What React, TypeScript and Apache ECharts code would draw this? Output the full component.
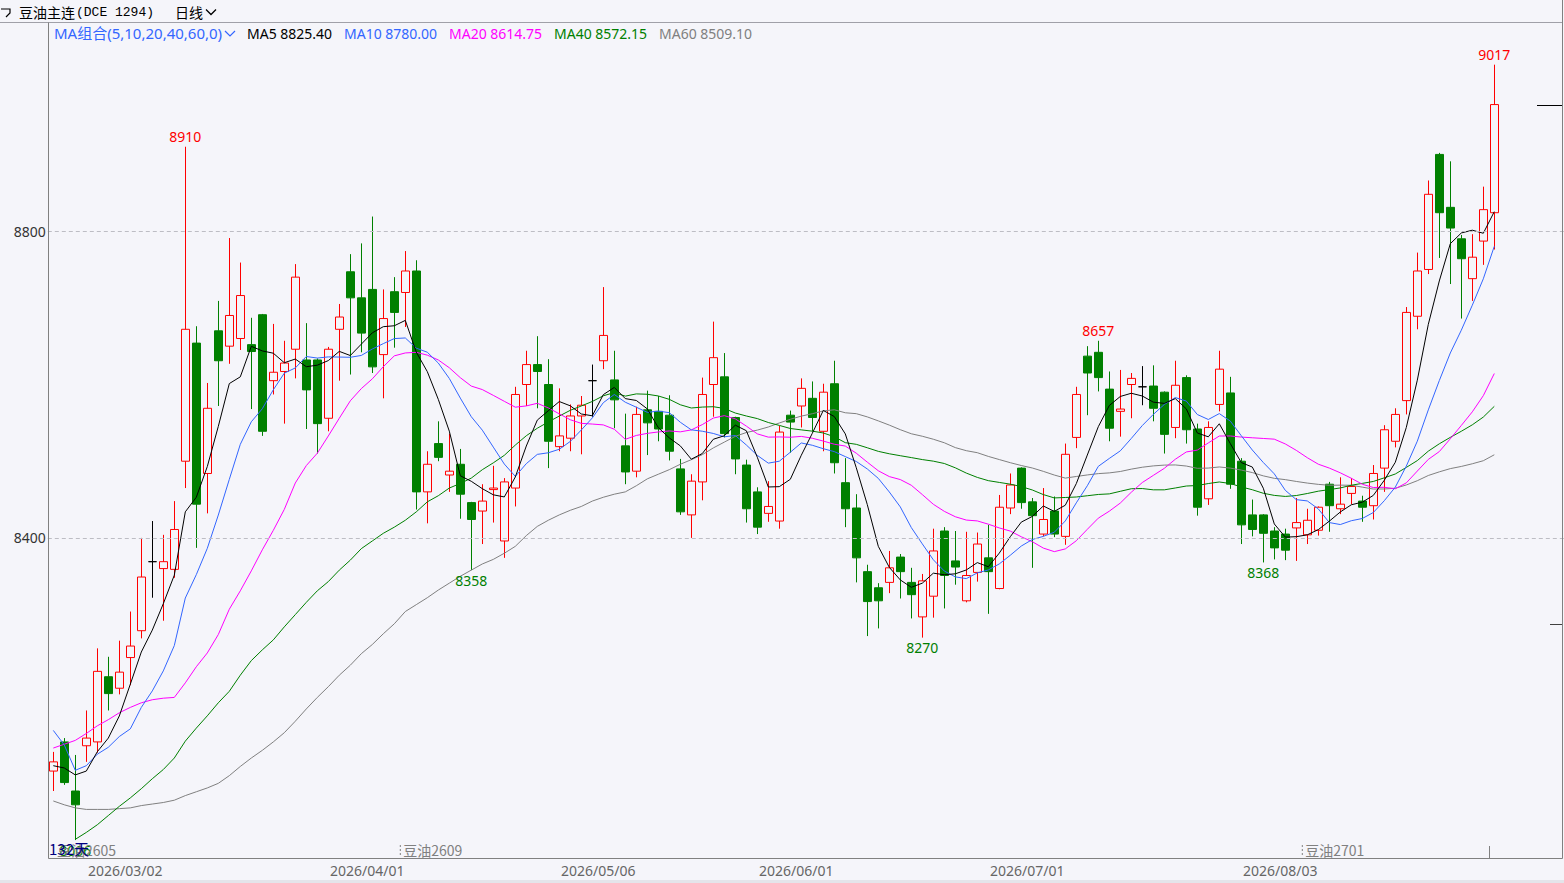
import React, { useEffect, useRef } from 'react';
import * as echarts from 'echarts';

// ---------------- data ----------------
const FIRST_DAY = '2026-02-11';
const HOLIDAYS = ['2026-02-16', '2026-02-17', '2026-02-18', '2026-02-19', '2026-02-20', '2026-02-23', '2026-04-06', '2026-05-01', '2026-05-04', '2026-05-05', '2026-06-19'];

const openPrices = [
  8096, 8134, 8070, 8129, 8134, 8219, 8204, 8244, 8279, 8369,
  8360, 8359, 8500, 8654, 8484, 8670, 8650, 8660, 8652, 8691,
  8605, 8617, 8646, 8632, 8632, 8556, 8672, 8747, 8713, 8724,
  8639, 8721, 8720, 8748, 8460, 8523, 8482, 8496, 8446, 8435,
  8463, 8396, 8465, 8600, 8626, 8600, 8519, 8530, 8559, 8605,
  8631, 8606, 8520, 8487, 8567, 8565, 8560, 8490, 8430, 8473,
  8600, 8610, 8557, 8495, 8460, 8432, 8422, 8560, 8572, 8582,
  8539, 8601, 8472, 8439, 8356, 8335, 8342, 8375, 8342, 8297,
  8324, 8409, 8370, 8318, 8355, 8374, 8334, 8439, 8491, 8447,
  8405, 8435, 8402, 8531, 8637, 8642, 8594, 8565, 8600, 8597,
  8598, 8590, 8544, 8609, 8542, 8451, 8574, 8589, 8500, 8430,
  8430, 8409, 8405, 8413, 8404, 8410, 8470, 8438, 8458, 8448,
  8442, 8491, 8526, 8579, 8689, 8750, 8900, 8831, 8790, 8738,
  8787, 8824,
];
const closePrices = [
  8108, 8081, 8052, 8139, 8226, 8197, 8225, 8259, 8349, 8369,
  8369, 8411, 8672, 8444, 8569, 8631, 8690, 8716, 8643, 8539,
  8616, 8628, 8740, 8593, 8549, 8646, 8688, 8713, 8667, 8623,
  8686, 8694, 8748, 8460, 8496, 8505, 8487, 8457, 8424, 8448,
  8465, 8473, 8587, 8626, 8617, 8526, 8533, 8559, 8573, 8605,
  8664, 8580, 8486, 8561, 8550, 8542, 8513, 8434, 8474, 8587,
  8635, 8536, 8503, 8438, 8414, 8441, 8538, 8551, 8595, 8557,
  8590, 8498, 8438, 8374, 8317, 8318, 8361, 8356, 8326, 8344,
  8383, 8351, 8362, 8351, 8392, 8356, 8440, 8469, 8446, 8429,
  8424, 8405, 8509, 8587, 8615, 8609, 8543, 8568, 8608, 8597,
  8569, 8535, 8599, 8541, 8440, 8544, 8620, 8470, 8417, 8411,
  8406, 8387, 8384, 8420, 8423, 8440, 8442, 8444, 8467, 8440,
  8484, 8541, 8561, 8694, 8748, 8848, 8824, 8804, 8764, 8766,
  8828, 8965,
];
const highPrices = [
  8121, 8139, 8117, 8175, 8256, 8245, 8266, 8304, 8400, 8422,
  8404, 8448, 8910, 8676, 8602, 8709, 8791, 8759, 8687, 8692,
  8679, 8657, 8757, 8680, 8634, 8649, 8705, 8770, 8784, 8819,
  8724, 8740, 8774, 8762, 8513, 8552, 8536, 8516, 8447, 8470,
  8494, 8478, 8597, 8644, 8663, 8633, 8595, 8574, 8585, 8626,
  8727, 8644, 8562, 8571, 8592, 8585, 8586, 8503, 8483, 8609,
  8682, 8641, 8558, 8502, 8466, 8474, 8546, 8566, 8608, 8604,
  8601, 8631, 8504, 8457, 8365, 8341, 8383, 8379, 8361, 8353,
  8412, 8414, 8409, 8408, 8407, 8417, 8456, 8484, 8492, 8452,
  8465, 8454, 8523, 8597, 8650, 8657, 8617, 8619, 8615, 8624,
  8625, 8591, 8631, 8612, 8549, 8552, 8644, 8610, 8504, 8450,
  8431, 8414, 8412, 8452, 8438, 8441, 8473, 8479, 8478, 8455,
  8495, 8547, 8569, 8701, 8772, 8866, 8902, 8891, 8795, 8796,
  8858, 9017,
];
const lowPrices = [
  8070, 8078, 8006, 8108, 8120, 8175, 8196, 8208, 8269, 8322,
  8292, 8348, 8465, 8387, 8432, 8572, 8627, 8645, 8568, 8533,
  8587, 8549, 8608, 8542, 8510, 8539, 8605, 8613, 8642, 8615,
  8582, 8648, 8675, 8437, 8419, 8500, 8460, 8425, 8358, 8392,
  8420, 8374, 8441, 8572, 8569, 8491, 8513, 8513, 8509, 8558,
  8620, 8543, 8470, 8479, 8508, 8526, 8501, 8430, 8400, 8449,
  8558, 8531, 8483, 8420, 8405, 8421, 8412, 8511, 8544, 8539,
  8513, 8484, 8414, 8342, 8272, 8282, 8328, 8321, 8295, 8270,
  8296, 8308, 8339, 8316, 8343, 8301, 8333, 8431, 8438, 8361,
  8402, 8401, 8391, 8517, 8560, 8591, 8526, 8532, 8556, 8573,
  8552, 8510, 8530, 8523, 8429, 8443, 8565, 8464, 8392, 8402,
  8368, 8372, 8371, 8370, 8392, 8403, 8408, 8431, 8444, 8421,
  8424, 8460, 8518, 8561, 8672, 8744, 8765, 8731, 8686, 8709,
  8756, 8776,
];

// moving-average values for days whose history lies before the chart
const ma5Lead = [8103, 8100, 8091, 8096];
const ma10Lead = [8149, 8130, 8097, 8103, 8118, 8127, 8141, 8151, 8179];
const ma20Lead = [8126, 8131, 8136, 8145, 8155, 8163, 8172, 8179, 8185, 8189, 8191, 8192, 8211, 8232, 8250, 8274, 8307, 8331, 8357];
const ma40Lead = [
  null, null, 8007, 8016, 8026, 8038, 8050, 8061, 8073, 8086,
  8098, 8113, 8135, 8152, 8168, 8185, 8200, 8221, 8240, 8254,
  8267, 8284, 8300, 8316, 8331, 8343, 8358, 8371, 8386, 8396,
  8406, 8414, 8423, 8434, 8447, 8455, 8465, 8471, 8478,
];
const ma60Lead = [
  8057, 8052, 8048, 8046, 8046, 8046, 8047, 8048, 8051, 8053,
  8055, 8058, 8064, 8069, 8074, 8080, 8090, 8102, 8113, 8123,
  8134, 8146, 8161, 8177, 8192, 8206, 8221, 8234, 8249, 8261,
  8275, 8288, 8304, 8313, 8322, 8332, 8341, 8350, 8358, 8366,
  8372, 8380, 8389, 8403, 8415, 8423, 8430, 8436, 8441, 8448,
  8453, 8457, 8460, 8468, 8477, 8483, 8489, 8496, 8502,
];

const maPeriods = [5, 10, 20, 40, 60];
const maNames = ['MA5', 'MA10', 'MA20', 'MA40', 'MA60'];
const maLegendValues = ['8825.40', '8780.00', '8614.75', '8572.15', '8509.10'];
const maColors = ['#000000', '#3366FF', '#FF00FF', '#008000', '#808080'];

const dateTicks = ['2026/03/02', '2026/04/01', '2026/05/06', '2026/06/01', '2026/07/01', '2026/08/03'];
const gridLevels = [8400, 8800];
const peakIdx = [12, 95, 131];
const troughIdx = [2, 38, 79, 110];
const rollIdx = [0, 32, 114];
const rollNames = ['豆油2605', '豆油2609', '豆油2701'];
const EMPTY_SLOTS = 6;

// ---------------- helpers ----------------
const BG = '#F5F5FA';
const FONT = '"Noto Sans", "Noto Sans CJK SC", sans-serif';
const CJK = '"Noto Sans CJK SC", "Noto Sans", sans-serif';

function tradingDates(n: number): string[] {
  const out: string[] = [];
  const [y, m, d] = FIRST_DAY.split('-').map(Number);
  const day = new Date(Date.UTC(y, m - 1, d));
  while (out.length < n) {
    const dow = day.getUTCDay();
    const iso = day.toISOString().slice(0, 10);
    if (dow !== 0 && dow !== 6 && !HOLIDAYS.includes(iso)) out.push(iso.replace(/-/g, '/'));
    day.setUTCDate(day.getUTCDate() + 1);
  }
  return out;
}

function movingAverage(period: number, lead: (number | null)[]) {
  return closePrices.map((_, i) => {
    if (i < period - 1) return lead[i];
    let s = 0;
    for (let j = i - period + 1; j <= i; j++) s += closePrices[j];
    return +(s / period).toFixed(2);
  });
}

const leads = [ma5Lead, ma10Lead, ma20Lead, ma40Lead, ma60Lead];

function txt(x: number, y: number, text: string, fill: string, fontSize = 14, family = FONT, align = 'left') {
  return {
    type: 'text', x, y, z: 100, silent: true,
    style: { text, fill, fontSize, fontFamily: family, align, verticalAlign: 'middle', textAlign: align, textVerticalAlign: 'middle' },
  };
}
function seg(x1: number, y1: number, x2: number, y2: number, stroke: string, extra: any = {}) {
  return { type: 'line', z: 100, silent: true, shape: { x1, y1, x2, y2 }, style: { stroke, lineWidth: 1, ...extra } };
}
function poly(points: number[][], stroke: string, lineWidth = 1.2) {
  return { type: 'polyline', z: 100, silent: true, shape: { points }, style: { stroke, lineWidth, fill: null } };
}

export default function App() {
  const ref = useRef<HTMLDivElement>(null);

  useEffect(() => {
    const el = ref.current as HTMLDivElement;
    const chart = echarts.init(el, undefined, { renderer: 'svg' });

    const dates = tradingDates(closePrices.length);
    const categories = [...dates];
    for (let k = 0; k < EMPTY_SLOTS; k++) categories.push('pad' + k);

    const candleData = openPrices.map((o, i) => {
      const v = [o, closePrices[i], lowPrices[i], highPrices[i]];
      if (o === closePrices[i]) return { value: v, itemStyle: { borderColor: '#000000', borderColor0: '#000000', color: BG, color0: BG } };
      return v;
    });

    const maSeries = maPeriods.map((p, k) => ({
      type: 'line',
      name: maNames[k],
      data: movingAverage(p, leads[k]),
      showSymbol: false,
      symbol: 'none',
      smooth: false,
      silent: true,
      z: 3,
      lineStyle: { color: maColors[k], width: 1 },
      itemStyle: { color: maColors[k] },
    })).reverse();

    const markPoints = [
      ...peakIdx.map((i) => ({
        coord: [dates[i], highPrices[i]], value: highPrices[i],
        label: { position: 'top', distance: 3.5, color: '#FF0000' },
      })),
      ...troughIdx.map((i) => ({
        coord: [dates[i], lowPrices[i]], value: lowPrices[i],
        label: { position: 'bottom', distance: 3, color: '#008000' },
      })),
    ];

    const option: any = {
      animation: false,
      backgroundColor: BG,
      grid: { left: 47.8, top: 22.5, width: 1518, bottom: 24.5, containLabel: false, outerBoundsMode: 'none', show: false },
      xAxis: {
        type: 'category',
        data: categories,
        boundaryGap: true,
        axisLine: { show: false },
        axisTick: { show: false },
        splitLine: { show: false },
        axisLabel: {
          interval: (_idx: number, value: string) => dateTicks.includes(value),
          color: '#666666', fontSize: 14, fontFamily: FONT, margin: 5, padding: [0, 10, 0, 0],
        },
      },
      yAxis: {
        type: 'value', min: 7982, max: 9072, scale: true,
        axisLine: { show: false }, axisTick: { show: false }, axisLabel: { show: false }, splitLine: { show: false },
      },
      series: [
        {
          type: 'candlestick',
          data: candleData,
          barWidth: 8,
          silent: true,
          z: 2,
          itemStyle: {
            color: BG, color0: '#008000',
            borderColor: '#FF0000', borderColor0: '#008000', borderColorDoji: '#000000',
            borderWidth: 1,
          },
          markLine: {
            silent: true, symbol: 'none', animation: false,
            lineStyle: { color: '#BDBDC4', type: [4, 3], width: 1 },
            label: { show: true, position: 'start', distance: 2, color: '#333333', fontSize: 14, fontFamily: FONT, formatter: (p: any) => String(p.value) },
            data: gridLevels.map((v) => ({ yAxis: v })),
          },
          markPoint: {
            symbol: 'circle', symbolSize: 0, silent: true, animation: false,
            label: { show: true, fontSize: 14, fontFamily: FONT },
            data: markPoints,
          },
        },
        ...maSeries,
      ],
    };

    chart.setOption(option);

    const xPx = (i: number) => chart.convertToPixel({ xAxisIndex: 0 }, categories[i]) as number;
    const yPx = (v: number) => chart.convertToPixel({ yAxisIndex: 0 }, v) as number;

    const g: any[] = [];
    // frame
    g.push(seg(0, 22.5, 1562, 22.5, '#A0A0A8'));
    g.push(seg(48.5, 22.5, 48.5, 858.5, '#808080'));
    g.push(seg(48.5, 858.5, 1562.5, 858.5, '#808080'));
    g.push(seg(1562.5, 0, 1562.5, 858.5, '#808080'));
    g.push({ type: 'rect', z: 90, silent: true, shape: { x: 0, y: 880, width: 1564, height: 3 }, style: { fill: '#E4E4EA' } });
    // header
    g.push(poly([[1, 9], [10, 9], [10, 13], [6, 17]], '#000000', 1.2));
    g.push(txt(19, 12, '豆油主连', '#000000', 14, CJK));
    g.push(txt(76, 12.5, '(DCE 1294)', '#000000', 13, '"Liberation Mono", "DejaVu Sans Mono", monospace'));
    g.push(txt(175, 12, '日线', '#000000', 14, CJK));
    g.push(poly([[206, 9.5], [211, 14.5], [216, 9.5]], '#000000', 1.3));
    // legend
    g.push(txt(54, 33, 'MA组合(5,10,20,40,60,0)', '#3366FF', 15, FONT));
    g.push(poly([[225, 31], [230, 36], [235, 31]], '#3366FF', 1.2));
    const legendX = [247, 344, 449, 554, 659];
    maNames.forEach((n, k) => g.push(txt(legendX[k], 33, n + ' ' + maLegendValues[k], maColors[k], 14, FONT)));
    // contract roll markers
    rollIdx.forEach((idx, k) => {
      const x = xPx(idx) - 5;
      if (idx > 0) {
        g.push(seg(x, 845, x, 857, '#808080', { lineDash: [2, 2] }));
        g.push(txt(x + 3, 850, rollNames[k], '#808080', 14, CJK));
      } else {
        g.push(txt(57, 850, rollNames[k], '#808080', 14, CJK));
      }
    });
    g.push(txt(49, 848, '132天', '#000080', 15, CJK));
    // right-edge markers
    const lastY = Math.round(yPx(closePrices[closePrices.length - 1])) + 0.5;
    g.push(seg(1537, lastY, 1562, lastY, '#000000'));
    g.push(seg(1550, 624.5, 1562, 624.5, '#404040'));
    // last-date tick on the bottom axis
    const lastX = Math.round(xPx(closePrices.length - 1) - 5) + 0.5;
    g.push(seg(lastX, 846, lastX, 858, '#808080'));

    chart.setOption({ graphic: g });

    return () => chart.dispose();
  }, []);

  return (
    <div
      ref={ref}
      style={{ position: 'fixed', left: 0, top: 0, width: 1564, height: 883, background: BG }}
    />
  );
}
